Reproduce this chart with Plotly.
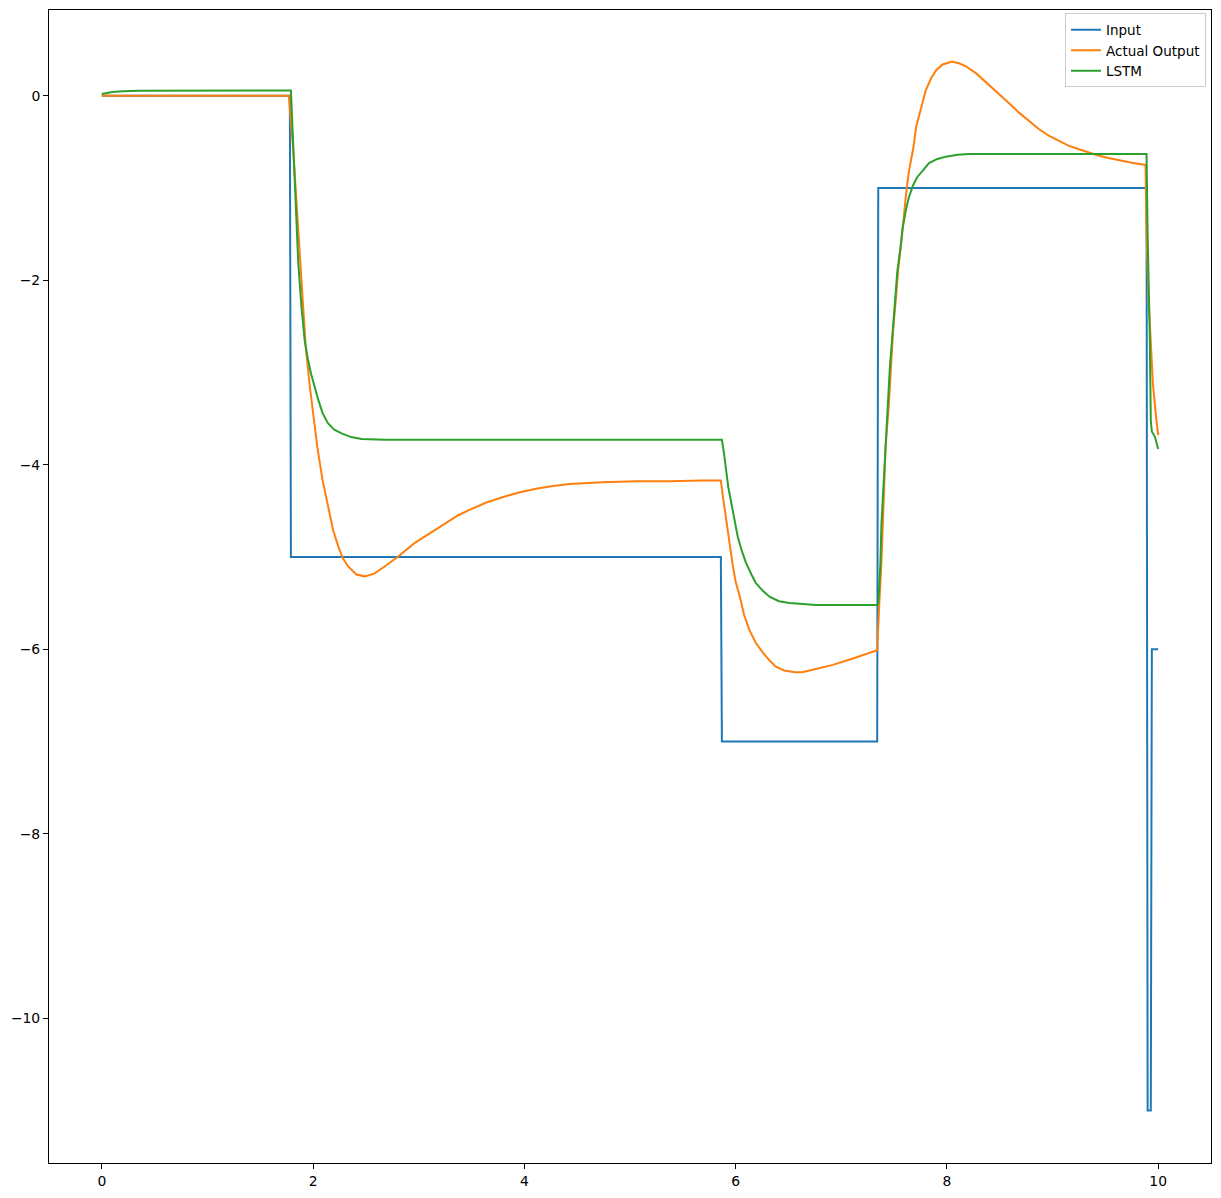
import plotly.graph_objects as go

# ---- data ----
input_x = [0.0, 1.78, 1.79, 5.86, 5.87, 7.34, 7.35, 9.89, 9.90, 9.93, 9.94, 10.0]
input_y = [0, 0, -5, -5, -7, -7, -1, -1, -11, -11, -6, -6]

actual_x = [0, 1.77, 1.81, 1.86, 1.90, 1.93, 1.97, 2.00, 2.04, 2.09, 2.14, 2.19, 2.24, 2.28,
            2.33, 2.41, 2.49, 2.58, 2.68, 2.80, 2.96, 3.15, 3.37, 3.48, 3.64, 3.80, 3.95,
            4.11, 4.27, 4.43, 4.74, 5.06, 5.37, 5.69, 5.86,
            5.88, 5.91, 5.94, 5.97, 6.00, 6.04, 6.08, 6.13, 6.19, 6.26, 6.32, 6.38, 6.46,
            6.56, 6.63, 6.73, 6.92, 7.11, 7.34,
            7.36, 7.38, 7.40, 7.42, 7.45, 7.47, 7.49, 7.52, 7.54, 7.57, 7.59, 7.61, 7.64,
            7.68, 7.71, 7.76, 7.80, 7.85, 7.90, 7.96, 8.05, 8.12, 8.18, 8.28, 8.37, 8.46,
            8.56, 8.68, 8.77, 8.87, 8.96, 9.06, 9.15, 9.25, 9.35, 9.44, 9.53, 9.63, 9.75,
            9.88, 9.89, 9.91, 9.93, 9.95, 9.98, 10.0]
actual_y = [0, 0, -0.56, -1.46, -2.18, -2.72, -3.16, -3.44, -3.81, -4.17, -4.46, -4.71, -4.89,
            -5.01, -5.10, -5.19, -5.21, -5.18, -5.10, -5.00, -4.85, -4.71, -4.55, -4.49,
            -4.41, -4.35, -4.30, -4.26, -4.23, -4.21, -4.19, -4.18, -4.18, -4.17, -4.17,
            -4.35, -4.60, -4.85, -5.07, -5.27, -5.43, -5.63, -5.79, -5.93, -6.04, -6.12,
            -6.19, -6.23, -6.25, -6.25, -6.22, -6.17, -6.10, -6.01,
            -5.50, -5.07, -4.43, -3.79, -3.36, -2.94, -2.55, -2.16, -1.87, -1.57, -1.31,
            -1.10, -0.82, -0.58, -0.33, -0.11, 0.06, 0.19, 0.28, 0.34, 0.37, 0.35, 0.32,
            0.24, 0.15, 0.05, -0.05, -0.18, -0.27, -0.36, -0.43, -0.49, -0.54, -0.58, -0.62,
            -0.65, -0.675, -0.70, -0.725, -0.75, -1.50, -2.22, -2.65, -3.12, -3.48, -3.68]

lstm_x = [0, 0.1, 0.2, 0.35, 1.79, 1.80, 1.82, 1.84, 1.86, 1.89, 1.92, 1.95, 1.98, 2.05, 2.09,
          2.14, 2.20, 2.27, 2.36, 2.46, 2.68, 3.62, 5.87,
          5.89, 5.91, 5.93, 5.96, 5.99, 6.02, 6.06, 6.10, 6.15, 6.19, 6.26, 6.32, 6.41, 6.51,
          6.76, 7.34,
          7.35, 7.37, 7.38, 7.40, 7.42, 7.44, 7.46, 7.49, 7.51, 7.53, 7.56, 7.58, 7.61, 7.64,
          7.68, 7.72, 7.78, 7.83, 7.91, 7.99, 8.10, 8.21, 9.89,
          9.90, 9.92, 9.93, 9.94, 9.97, 10.0]
lstm_y = [0.02, 0.04, 0.05, 0.055, 0.057, -0.20, -0.74, -1.28, -1.82, -2.29, -2.65, -2.85,
          -3.01, -3.30, -3.44, -3.55, -3.62, -3.66, -3.70, -3.72, -3.73, -3.73, -3.73,
          -3.88, -4.06, -4.24, -4.42, -4.60, -4.78, -4.94, -5.07, -5.19, -5.28, -5.37, -5.43,
          -5.48, -5.50, -5.52, -5.52,
          -5.51, -5.07, -4.65, -4.22, -3.79, -3.36, -2.94, -2.51, -2.21, -1.91, -1.65, -1.44,
          -1.25, -1.10, -0.97, -0.88, -0.80, -0.73, -0.685, -0.66, -0.64, -0.63, -0.63,
          -1.50, -2.58, -3.52, -3.64, -3.70, -3.83]

x_ticks = [0, 2, 4, 6, 8, 10]
y_ticks = [0, -2, -4, -6, -8, -10]

FONT = "DejaVu Sans"

fig = go.Figure()
fig.add_trace(go.Scatter(x=input_x, y=input_y, mode="lines", name="Input",
                         line=dict(color="#1f77b4", width=2)))
fig.add_trace(go.Scatter(x=actual_x, y=actual_y, mode="lines", name="Actual Output",
                         line=dict(color="#ff7f0e", width=2)))
fig.add_trace(go.Scatter(x=lstm_x, y=lstm_y, mode="lines", name="LSTM",
                         line=dict(color="#2ca02c", width=2)))

axis_common = dict(showgrid=False, zeroline=False, showline=True, linecolor="black",
                   linewidth=1, mirror=True, ticks="outside", ticklen=5, tickwidth=1,
                   tickcolor="black", tickfont=dict(family=FONT, size=13.9, color="black"))

fig.update_layout(
    width=1221, height=1198,
    margin=dict(l=49, r=10, t=9, b=34),
    paper_bgcolor="white", plot_bgcolor="white",
    font=dict(family=FONT, size=13.9, color="black"),
    xaxis=dict(range=[-0.5, 10.5], tickvals=x_ticks, **axis_common),
    yaxis=dict(range=[-11.57, 0.93], tickvals=y_ticks, **axis_common),
    legend=dict(x=0.9957, y=0.997, xanchor="right", yanchor="top",
                bgcolor="rgba(255,255,255,0.8)", bordercolor="#cccccc", borderwidth=1,
                font=dict(family=FONT, size=13.5, color="black")),
    showlegend=True,
)

fig.write_html("out.html", config={"displayModeBar": False},
               post_script="document.body.style.margin='0';")
